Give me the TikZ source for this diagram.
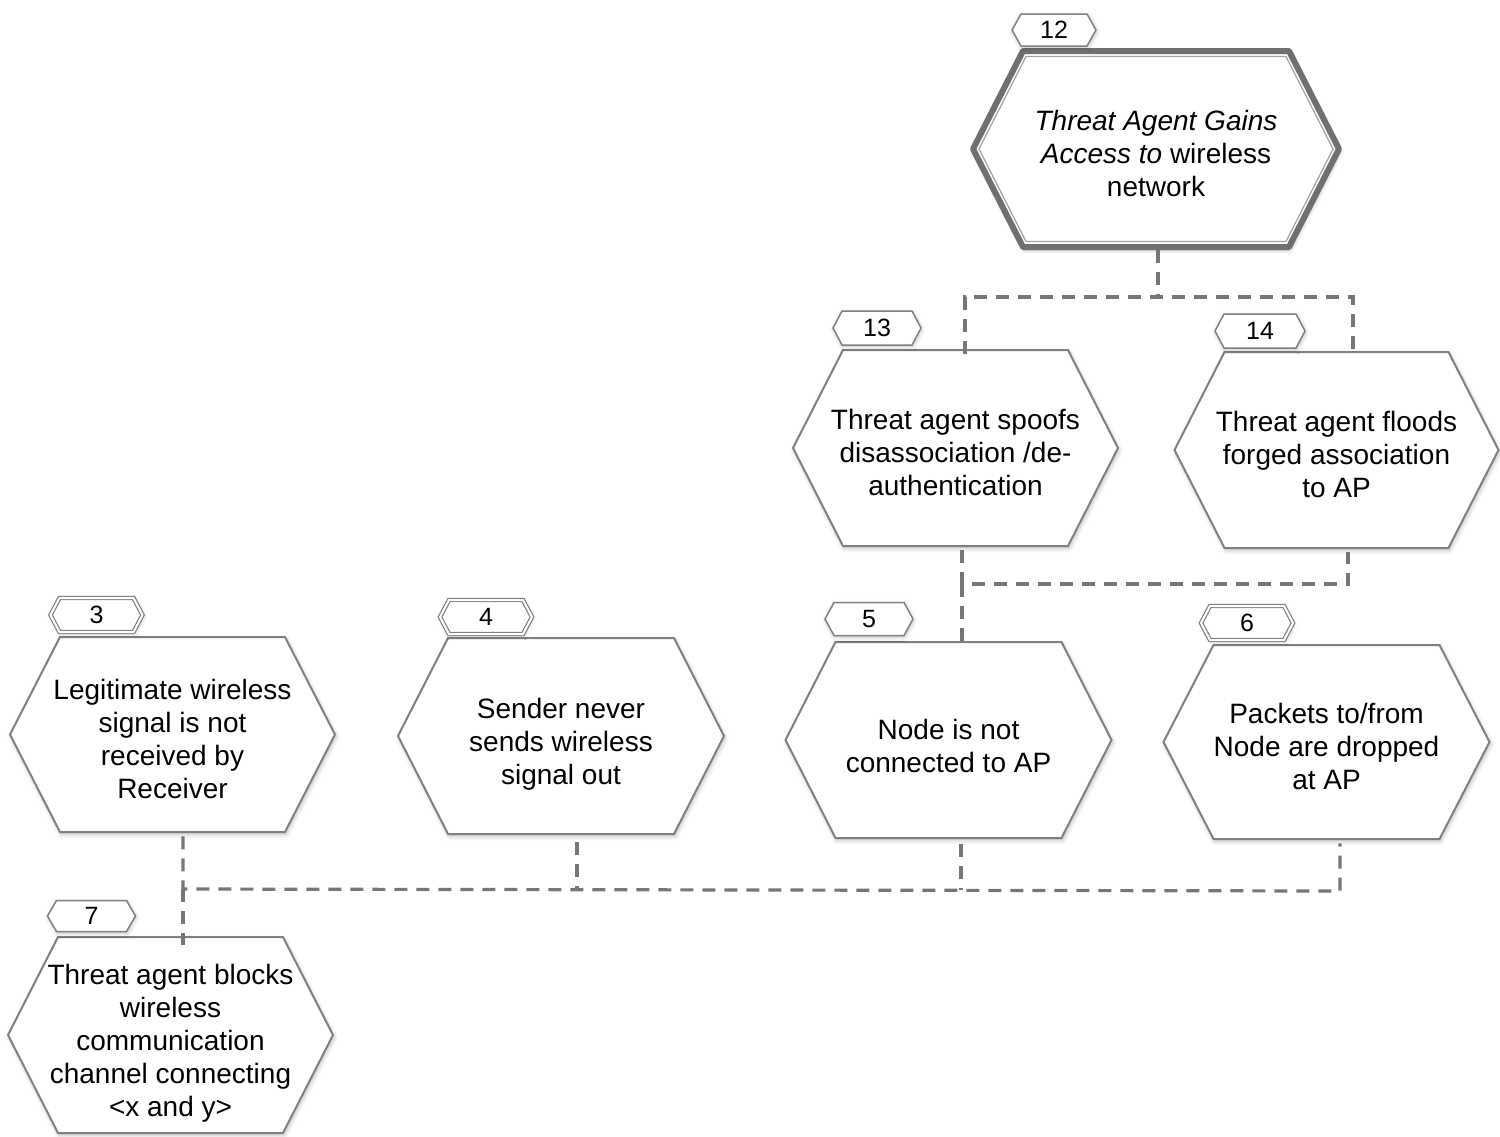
\documentclass[tikz,border=0pt]{standalone}
\usepackage{fontspec}
\setmainfont{Liberation Sans}
\usetikzlibrary{shadows.blur,calc}
\definecolor{hexgray}{RGB}{128,128,128}
\definecolor{darkgray12}{RGB}{112,112,112}
\definecolor{conngray}{RGB}{118,118,118}
\tikzset{
  x=0.5pt,y=-0.5pt,
  hexstyle/.style={draw=hexgray,line width=1pt,fill=white,line join=miter,
    blur shadow={shadow xshift=0.6pt,shadow yshift=-1.2pt,shadow blur steps=6,shadow opacity=25}},
  tagstyle/.style={draw=hexgray,line width=0.75pt,fill=white,
    blur shadow={shadow xshift=0.4pt,shadow yshift=-0.8pt,shadow blur steps=4,shadow opacity=25}},
  dbltag/.style={double=white,double distance=1pt,line width=0.6pt},
  hextext/.style={shape=rectangle,inner sep=0pt,align=center,yshift=-2pt,
    font=\fontsize{14}{16.5}\selectfont},
  tagtext/.style={shape=rectangle,inner sep=0pt,
    font=\fontsize{12.5}{14}\selectfont},
  conn/.style={draw=conngray,line width=1.6pt,dash pattern=on 6.5pt off 4.5pt}
}
% #1 style, #2 cx, #3 cy, #4 half width, #5 half height, #6 inset (all in px)
\newcommand\hexpath[6]{%
  \draw[#1] ({#2-#4},#3) -- ({#2-#4+#6},{#3-#5}) -- ({#2+#4-#6},{#3-#5})
    -- ({#2+#4},#3) -- ({#2+#4-#6},{#3+#5}) -- ({#2-#4+#6},{#3+#5}) -- cycle;}
% main hexagon with named text node: #1 text options, #2 name, #3 cx, #4 cy, #5 hw, #6 hh, #7 text
\newcommand\hexnode[7][]{%
  \hexpath{hexstyle}{#3}{#4}{#5}{#6}{50}
  \node[hextext,minimum width={#5*1pt},minimum height={#6*1pt},#1] (#2) at (#3,#4) {#7};}
% tag: #1 extra, #2 name, #3 cx, #4 cy, #5 hw, #6 hh, #7 text
\newcommand\tagnode[7][]{%
  \hexpath{tagstyle,#1}{#3}{#4}{#5}{#6}{9}
  \node[tagtext,minimum width={#5*1pt},minimum height={#6*1pt}] (#2) at (#3,#4) {#7};}
\begin{document}
\begin{tikzpicture}
\useasboundingbox (0,0) rectangle (1500,1136);

% ---------- node 12 ----------
\hexpath{draw=darkgray12,line width=3pt,fill=white,line join=round,
  blur shadow={shadow xshift=0.6pt,shadow yshift=-1.5pt,shadow blur steps=6,shadow opacity=30}}{1156}{149}{183}{98}{50}
\hexpath{draw=hexgray!75,line width=0.6pt}{1156}{149}{177}{92.5}{47}
\node[hextext,minimum width=366pt*0.5,minimum height=196pt*0.5] (n12) at (1156,149)
  {\itshape Threat Agent Gains\\\textit{Access to} wireless\\network};
\tagnode{t12}{1054}{30}{42}{16}{12}

% ---------- nodes 13, 14 ----------
\hexnode{n13}{955.5}{448}{162.5}{98}{Threat agent spoofs\\disassociation /de-\\authentication}
\tagnode{t13}{877}{328}{44}{17}{13}
\hexnode{n14}{1336.5}{450}{162}{98}{Threat agent floods\\forged association\\to AP}
\tagnode{t14}{1260}{331}{45}{17}{14}

% ---------- nodes 3,4,5,6 ----------
\hexnode{n3}{172.5}{734.5}{162.5}{97.5}{Legitimate wireless\\signal is not\\received by\\Receiver}
\tagnode[dbltag]{t3}{96.5}{615}{46}{17}{3}
\hexnode[yshift=-2pt]{n4}{561}{736}{163}{98}{Sender never\\sends wireless\\signal out}
\tagnode[dbltag]{t4}{486}{617}{46}{17}{4}
\hexnode[yshift=-1pt]{n5}{948.5}{740}{163}{98}{Node is not\\connected to AP}
\tagnode{t5}{869}{619}{44}{16.5}{5}
\hexnode{n6}{1326.5}{742}{163}{97}{Packets to/from\\Node are dropped\\at AP}
\tagnode[dbltag]{t6}{1247}{623}{46}{17}{6}

% ---------- node 7 ----------
\hexnode[yshift=-2pt]{n7}{170.5}{1035}{162.5}{98}{Threat agent blocks\\wireless\\communication\\channel connecting\\<x and y>}
\tagnode{t7}{91.5}{916}{44}{15.5}{7}

% ---------- connectors ----------
\coordinate (a13) at (965,297);
\coordinate (a14) at (1353,297);
\coordinate (c13) at (962,584);
\coordinate (c14) at (1348,584);
\coordinate (d3) at (183,889);
\coordinate (d4) at (577,889);
\coordinate (d5) at (961,890);
\coordinate (d6) at (1340,891);

\draw[conn] (1158,250) -- (1158,297);
\draw[conn] (n13.north -| a13) -- (a13) -- (a14) -- (n14.north -| a14);
\draw[conn] (n13.south -| c13) -- (c13) -- (c14) -- (n14.south -| c14);
\draw[conn] (c13) -- (n5.north -| c13);
\draw[conn] (n3.south -| d3) -- (d3) -- (d6) -- (n6.south -| d6);
\draw[conn] (n4.south -| d4) -- (d4);
\draw[conn] (n5.south -| d5) -- (d5);
\draw[conn] (d3) -- (n7.north -| d3);
\end{tikzpicture}
\end{document}
